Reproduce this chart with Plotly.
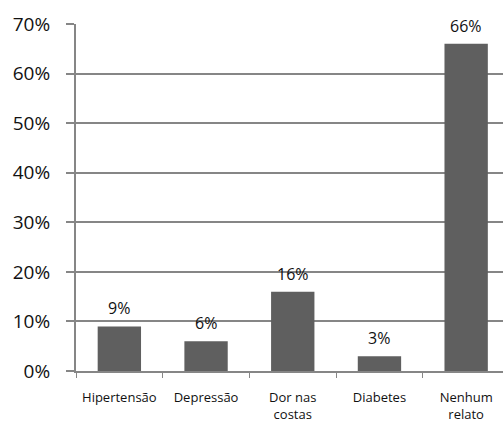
import plotly.graph_objects as go

# Health conditions reported and their share of respondents
categorias = ["Hipertensão", "Depressão", "Dor nas<br>costas", "Diabetes", "Nenhum<br>relato"]
percentuais = [0.09, 0.06, 0.16, 0.03, 0.66]
rotulos = ["9%", "6%", "16%", "3%", "66%"]

cinza_barra = "#5f5f5f"
cinza_eixo = "#868686"
fonte = "Open Sans"

fig = go.Figure()
fig.add_trace(go.Bar(
    x=categorias,
    y=percentuais,
    marker=dict(color=cinza_barra, line=dict(width=0)),
    width=0.5,
    hoverinfo="skip",
))

# Value labels above each bar
for cat, val, txt in zip(categorias, percentuais, rotulos):
    fig.add_annotation(
        x=cat, y=val, text=txt, showarrow=False,
        xanchor="center", yanchor="bottom", yshift=5,
        font=dict(family=fonte, size=16, color="#111111"),
    )

fig.update_layout(
    width=503, height=425,
    margin=dict(l=76, r=0, t=24, b=54, autoexpand=False),
    paper_bgcolor="white", plot_bgcolor="white",
    showlegend=False,
    bargap=0.5,
)

fig.update_xaxes(
    type="category",
    range=[-0.5, 4.425],
    automargin=False,
    showline=True, linecolor=cinza_eixo, linewidth=2,
    ticks="outside", tickson="boundaries", ticklen=5, tickwidth=1, tickcolor=cinza_eixo,
    ticklabelstandoff=13,
    tickfont=dict(family=fonte, size=13, color="#111111"),
    showgrid=False, zeroline=False,
)

fig.update_yaxes(
    range=[0, 0.70],
    automargin=False,
    dtick=0.1, tick0=0, tickformat=".0%",
    showline=True, linecolor=cinza_eixo, linewidth=2,
    ticks="outside", ticklen=8, tickwidth=2, tickcolor=cinza_eixo,
    ticklabelstandoff=12,
    showgrid=True, gridcolor=cinza_eixo, gridwidth=2,
    zeroline=False,
    tickfont=dict(family=fonte, size=19, color="#111111"),
)

fig.write_html("out.html")
